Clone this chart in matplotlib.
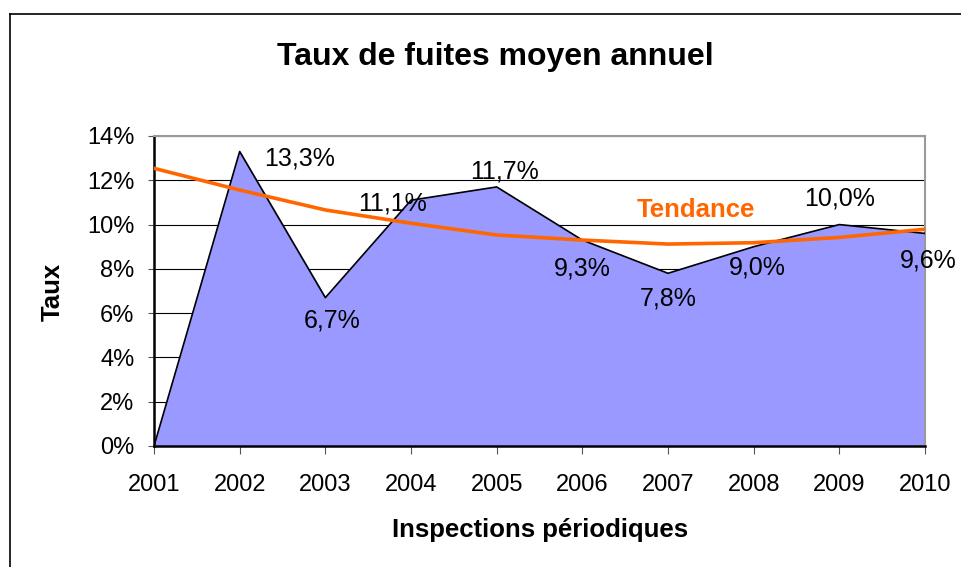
import matplotlib.pyplot as plt
from matplotlib.lines import Line2D

plt.rcParams['font.family'] = ['Liberation Sans', 'DejaVu Sans']

annees = [2001, 2002, 2003, 2004, 2005, 2006, 2007, 2008, 2009, 2010]
taux = [0.0, 13.3, 6.7, 11.1, 11.7, 9.3, 7.8, 9.0, 10.0, 9.6]
tendance = [12.54, 11.56, 10.66, 10.06, 9.53, 9.30, 9.12, 9.18, 9.42, 9.79]
# label offsets in pixels relative to each point (no label for 2001)
decalages = [None, (60, -7), (7, -23), (-19, -3), (8, 15),
             (0, -28), (0, -25), (4, -21), (0, 26), (3, -27)]

fig = plt.figure(figsize=(9.62, 5.67), dpi=100)
ax = fig.add_axes([154 / 962, 1 - 446 / 567, (925 - 154) / 962, (446 - 136) / 567])

# outer frame (only left and top visible in the original)
fig.add_artist(Line2D([10 / 962, 10 / 962], [0, 1 - 14 / 567], color='black', lw=1.2))
fig.add_artist(Line2D([10 / 962, 1], [1 - 14 / 567, 1 - 14 / 567], color='black', lw=1.2))

ax.set_ylim(0, 14)
ax.set_xlim(annees[0], annees[-1])
ax.set_yticks(range(0, 15, 2))
ax.set_yticklabels([f'{v}%' for v in range(0, 15, 2)])
ax.set_xticks(annees)
ax.grid(axis='y', color='black', lw=0.8)
ax.set_axisbelow(True)

ax.fill_between(annees, taux, color='#9999ff', zorder=2)
ax.plot(annees, taux, color='black', lw=1.2, zorder=3)
ax.plot(annees, tendance, color='#ff6600', lw=2.6, zorder=4)

for a, v, d in zip(annees, taux, decalages):
    if d is None:
        continue
    ax.annotate(f'{v:.1f}%'.replace('.', ','), (a, v), xytext=d,
                textcoords='offset pixels', ha='center', va='center',
                fontsize=18, zorder=5)

ax.text(2007.33, 10.66, 'Tendance', color='#ff6600', fontsize=18.5,
        fontweight='bold', ha='center', va='center', zorder=5)

for s in ['left', 'bottom']:
    ax.spines[s].set_color('black')
    ax.spines[s].set_linewidth(1.8)
for s in ['top', 'right']:
    ax.spines[s].set_color('#999999')
    ax.spines[s].set_linewidth(1.5)

ax.tick_params(axis='both', labelsize=17, direction='out', color='#555555')
ax.tick_params(axis='x', length=6, pad=14)
ax.tick_params(axis='y', length=4, pad=10)

fig.text(495 / 962, 1 - 57 / 567, 'Taux de fuites moyen annuel', fontsize=23,
         fontweight='bold', ha='center', va='center')
fig.text(540 / 962, 1 - 530 / 567, 'Inspections périodiques', fontsize=18.5,
         fontweight='bold', ha='center', va='center')
fig.text(53 / 962, 1 - 292 / 567, 'Taux', fontsize=18.5, fontweight='bold',
         rotation=90, ha='center', va='center')

fig.savefig('out.png', dpi=100)
